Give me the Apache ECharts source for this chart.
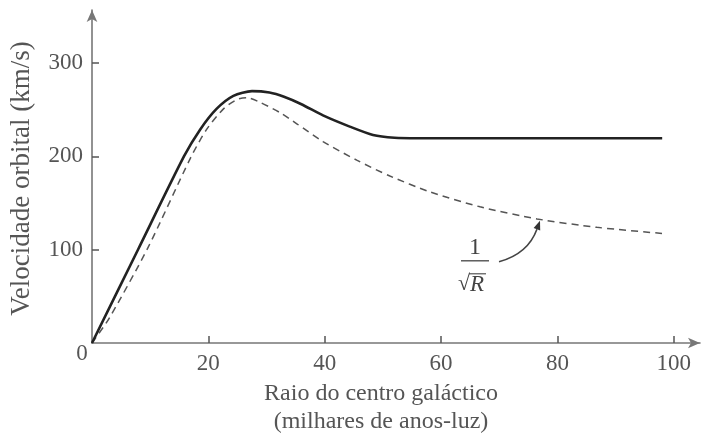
<!DOCTYPE html>
<html>
<head>
<meta charset="utf-8">
<script src="https://cdn.jsdelivr.net/npm/echarts@6/dist/echarts.min.js"></script>
<style>html,body{margin:0;padding:0;background:#fff}#c{width:702px;height:436px}</style>
</head>
<body>
<div id="c"></div>
<script>
// Observed rotation curve (solid)
const observedR = [0, 7.9, 15.8, 18.6, 21.4, 24.3, 27.5, 30.5, 33, 36, 39.7, 44.3, 48.3, 52, 56, 65, 80, 98];
const observedV = [0, 100, 200, 229, 251, 265, 270, 268.5, 264, 256, 244, 232, 223, 220, 219.5, 219.5, 219.5, 219.5];
// Expected (Keplerian, 1/sqrt(R)) curve (dashed)
const keplerR = [0, 3, 9.6, 16.9, 19.7, 22.6, 24.9, 26.6, 28.9, 32.3, 35.2, 39.7, 45.5, 51.2, 58.1, 66.7, 76.5, 86.8, 98.8];
const keplerV = [0, 27, 102, 198, 229, 251, 261, 263, 258, 247, 235, 216, 196, 179, 162, 146, 133, 124, 117];
const xTicks = [20, 40, 60, 80, 100];
const yTicks = [100, 200, 300];
const xName = 'Raio do centro galáctico\n(milhares de anos-luz)';
const yName = 'Velocidade orbital (km/s)';

const serif = '"Liberation Serif", "DejaVu Serif", serif';
const chart = echarts.init(document.getElementById('c'));
const pair = (a, b) => a.map((v, i) => [v, b[i]]);

chart.setOption({
  animation: false,
  backgroundColor: '#fff',
  grid: { left: 92, right: 2, top: 10, bottom: 93, containLabel: false, outerBoundsMode: 'none' },
  xAxis: {
    type: 'value', min: 0, max: 104.5,
    name: xName, nameLocation: 'middle', nameGap: 28,
    nameTextStyle: { fontFamily: serif, fontSize: 24, color: '#555', lineHeight: 28, padding: [0, 30, 0, 0] },
    axisLine: { show: true, onZero: false, lineStyle: { color: '#777', width: 1.6 }, symbol: ['none', 'arrow'], symbolSize: [8, 12] },
    axisTick: { show: true, inside: true, length: 7, lineStyle: { color: '#555', width: 1.5 }, customValues: xTicks },
    axisLabel: { fontFamily: serif, fontSize: 23, color: '#555', margin: 9, customValues: xTicks },
    splitLine: { show: false }
  },
  yAxis: {
    type: 'value', min: 0, max: 357,
    name: yName, nameLocation: 'middle', nameGap: 57, nameRotate: 90,
    nameTextStyle: { fontFamily: serif, fontSize: 27, color: '#555', padding: [0, 4, 0, 0] },
    axisLine: { show: true, onZero: false, lineStyle: { color: '#777', width: 1.6 }, symbol: ['none', 'arrow'], symbolSize: [8, 12] },
    axisTick: { show: true, inside: true, length: 7, lineStyle: { color: '#555', width: 1.5 }, customValues: yTicks },
    axisLabel: { fontFamily: serif, fontSize: 23, color: '#555', margin: 9, customValues: yTicks },
    splitLine: { show: false }
  },
  series: [
    {
      type: 'line', data: pair(observedR, observedV), smooth: 0.25, showSymbol: false,
      lineStyle: { color: '#222', width: 2.6 }, z: 3
    },
    {
      type: 'line', data: pair(keplerR, keplerV), smooth: 0.25, showSymbol: false,
      lineStyle: { color: '#555', width: 1.5, type: [7, 5] }, z: 2
    }
  ]
});

// annotation anchored to data coordinates
const tip = chart.convertToPixel({ gridIndex: 0 }, [77, 131]);
const origin = chart.convertToPixel({ gridIndex: 0 }, [0, 0]);
const tx = tip[0], ty = tip[1];
const sx = tx - 41, sy = ty + 41;
const cx = tx - 12, cy = ty + 33;
const ang = Math.atan2(ty - cy, tx - cx);
const hl = 9, hw = 3.5;
const bx = tx - hl * Math.cos(ang), by = ty - hl * Math.sin(ang);
const px = -Math.sin(ang), py = Math.cos(ang);
const lx = tx - 65;
chart.setOption({
  graphic: [
    { type: 'text', x: origin[0] - 10, y: origin[1] + 11,
      style: { text: '0', font: '23px ' + serif, fill: '#555', align: 'center', verticalAlign: 'middle' } },
    { type: 'text', x: lx, y: ty + 27,
      style: { text: '1', font: '24px ' + serif, fill: '#444', align: 'center', verticalAlign: 'middle' } },
    { type: 'line', shape: { x1: lx - 14, y1: ty + 40, x2: lx + 14, y2: ty + 40 }, style: { stroke: '#444', lineWidth: 1.3 } },
    { type: 'text', x: lx - 5, y: ty + 63,
      style: { text: '√', font: '22px ' + serif, fill: '#444', align: 'right', verticalAlign: 'middle' } },
    { type: 'text', x: lx - 5, y: ty + 64,
      style: { text: 'R', font: 'italic 23px ' + serif, fill: '#444', align: 'left', verticalAlign: 'middle' } },
    { type: 'line', shape: { x1: lx - 6, y1: ty + 53, x2: lx + 11, y2: ty + 53 }, style: { stroke: '#444', lineWidth: 1.1 } },
    { type: 'bezierCurve', shape: { x1: sx, y1: sy, x2: bx, y2: by, cpx1: cx, cpy1: cy },
      style: { stroke: '#444', lineWidth: 1.6, fill: null } },
    { type: 'polygon', shape: { points: [[tx, ty], [bx + px * hw, by + py * hw], [bx - px * hw, by - py * hw]] },
      style: { fill: '#333' } }
  ]
});
</script>
</body>
</html>
